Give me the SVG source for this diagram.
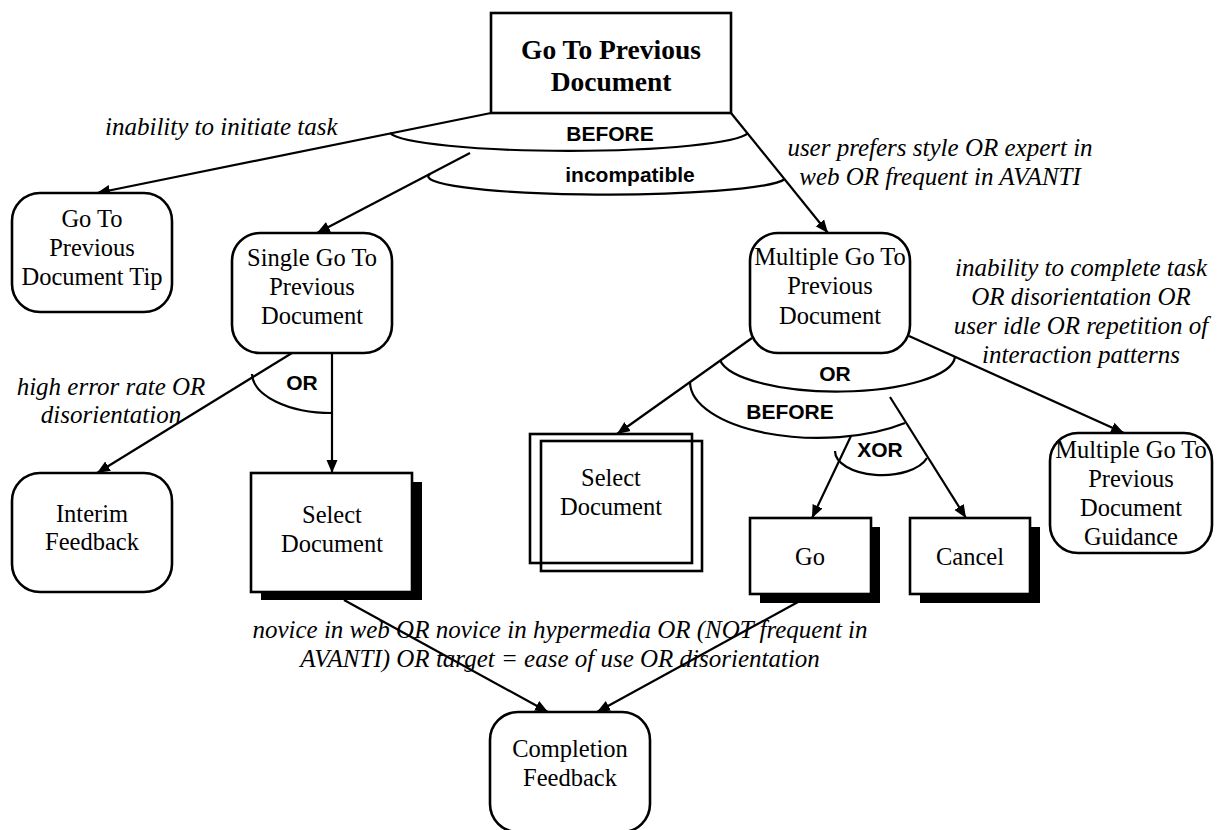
<svg xmlns="http://www.w3.org/2000/svg" width="1220" height="830" viewBox="0 0 1220 830">
<defs>
<marker id="arr" markerUnits="userSpaceOnUse" markerWidth="14" markerHeight="14" viewBox="0 0 14 14" refX="13" refY="7" orient="auto">
<path d="M0,1.5 L13,7 L0,12.5 Z" fill="#000"/>
</marker>
</defs>
<style>
.box{fill:#fff;stroke:#000;stroke-width:2.6}
.shadow{fill:#000;stroke:none}
.t{font-family:"Liberation Serif","Times New Roman",serif;font-size:24.5px;fill:#000;text-anchor:middle}
.title{font-family:"Liberation Serif","Times New Roman",serif;font-size:27.5px;font-weight:bold;fill:#000;text-anchor:middle}
.it{font-family:"Liberation Serif","Times New Roman",serif;font-size:25px;font-style:italic;fill:#000}
.op{font-family:"Liberation Sans",Arial,sans-serif;font-size:21px;font-weight:bold;fill:#000;text-anchor:middle}
.ln{fill:none;stroke:#000;stroke-width:2.2}
.arc{fill:none;stroke:#000;stroke-width:2.2}
</style>
<rect width="1220" height="830" fill="#fff"/>

<g id="connectors">
<line class="ln" x1="491" y1="113" x2="97" y2="193" marker-end="url(#arr)"/>
<line class="ln" x1="470" y1="153" x2="317" y2="233" marker-end="url(#arr)"/>
<line class="ln" x1="731" y1="113" x2="828" y2="233" marker-end="url(#arr)"/>
<line class="ln" x1="332" y1="353" x2="332" y2="473" marker-end="url(#arr)"/>
<line class="ln" x1="292" y1="353" x2="97" y2="473" marker-end="url(#arr)"/>
<line class="ln" x1="752" y1="338" x2="617" y2="434" marker-end="url(#arr)"/>
<line class="ln" x1="851" y1="436" x2="812" y2="518" marker-end="url(#arr)"/>
<line class="ln" x1="890" y1="397" x2="966" y2="518" marker-end="url(#arr)"/>
<line class="ln" x1="909" y1="336" x2="1124" y2="433" marker-end="url(#arr)"/>
<line class="ln" x1="344" y1="600" x2="548" y2="712" marker-end="url(#arr)"/>
<line class="ln" x1="798" y1="602" x2="597" y2="712" marker-end="url(#arr)"/>
<path class="arc" d="M390,133 A180,20 0 0 0 748,133"/>
<path class="arc" d="M430,174 A178,18 0 0 0 785,179"/>
<path class="arc" d="M252,374 A80,40 0 0 0 332,413"/>
<path class="arc" d="M720,360 A118,36 0 0 0 955,357"/>
<path class="arc" d="M690,382 A128,56 0 0 0 905,423"/>
<path class="arc" d="M835,451 A47,24 0 0 0 927,458"/>
<text class="op" x="610" y="141">BEFORE</text>
<text class="op" x="630" y="182">incompatible</text>
<text class="op" x="302" y="390">OR</text>
<text class="op" x="835" y="381">OR</text>
<text class="op" x="790" y="419">BEFORE</text>
<text class="op" x="880" y="457">XOR</text>
<text class="it" x="105" y="135">inability to initiate task</text>
<text class="it" text-anchor="middle"><tspan x="940" y="156">user prefers style OR expert in</tspan><tspan x="940" y="185">web OR frequent in AVANTI</tspan></text>
<text class="it" text-anchor="middle"><tspan x="111" y="395">high error rate OR</tspan><tspan x="111" y="423">disorientation</tspan></text>
<text class="it" text-anchor="middle"><tspan x="1081" y="276">inability to complete task</tspan><tspan x="1081" y="305">OR disorientation OR</tspan><tspan x="1081" y="334">user idle OR repetition of</tspan><tspan x="1081" y="363">interaction patterns</tspan></text>
<text class="it" text-anchor="middle"><tspan x="560" y="638">novice in web OR novice in hypermedia OR (NOT frequent in</tspan><tspan x="560" y="667">AVANTI) OR target = ease of use OR disorientation</tspan></text>
</g>

<g id="node-root">
<rect class="box" x="491" y="13" width="240" height="100" stroke-width="3"/>
<text class="title"><tspan x="611" y="59">Go To Previous</tspan><tspan x="611" y="91">Document</tspan></text>
</g>

<g id="node-tip">
<rect class="box" x="12" y="193" width="160" height="119" rx="28"/>
<text class="t"><tspan x="92" y="227">Go To</tspan><tspan x="92" y="256">Previous</tspan><tspan x="92" y="285">Document Tip</tspan></text>
</g>

<g id="node-single">
<rect class="box" x="232" y="233" width="160" height="120" rx="28"/>
<text class="t"><tspan x="312" y="266">Single Go To</tspan><tspan x="312" y="295">Previous</tspan><tspan x="312" y="324">Document</tspan></text>
</g>

<g id="node-multiple">
<rect class="box" x="750" y="233" width="160" height="120" rx="28"/>
<text class="t"><tspan x="830" y="265">Multiple Go To</tspan><tspan x="830" y="294">Previous</tspan><tspan x="830" y="324">Document</tspan></text>
</g>

<g id="node-interim">
<rect class="box" x="12" y="473" width="160" height="119" rx="28"/>
<text class="t"><tspan x="92" y="522">Interim</tspan><tspan x="92" y="550">Feedback</tspan></text>
</g>

<g id="node-select-single">
<rect class="shadow" x="261" y="482" width="161" height="118"/>
<rect class="box" x="251" y="473" width="161" height="119"/>
<text class="t"><tspan x="332" y="523">Select</tspan><tspan x="332" y="552">Document</tspan></text>
</g>

<g id="node-select-multiple">
<rect class="box" x="530" y="434" width="162" height="129"/>
<rect class="box" x="541" y="441" width="161" height="130" style="fill:none"/>
<text class="t"><tspan x="611" y="486">Select</tspan><tspan x="611" y="515">Document</tspan></text>
</g>

<g id="node-go">
<rect class="shadow" x="760" y="527" width="120" height="76"/>
<rect class="box" x="750" y="518" width="121" height="76"/>
<text class="t" x="810" y="565">Go</text>
</g>

<g id="node-cancel">
<rect class="shadow" x="920" y="527" width="120" height="76"/>
<rect class="box" x="910" y="518" width="120" height="76"/>
<text class="t" x="970" y="565">Cancel</text>
</g>

<g id="node-guidance">
<rect class="box" x="1050" y="433" width="162" height="120" rx="28"/>
<text class="t"><tspan x="1131" y="458">Multiple Go To</tspan><tspan x="1131" y="487">Previous</tspan><tspan x="1131" y="516">Document</tspan><tspan x="1131" y="545">Guidance</tspan></text>
</g>

<g id="node-completion">
<rect class="box" x="490" y="712" width="160" height="120" rx="28"/>
<text class="t"><tspan x="570" y="757">Completion</tspan><tspan x="570" y="786">Feedback</tspan></text>
</g>
</svg>
